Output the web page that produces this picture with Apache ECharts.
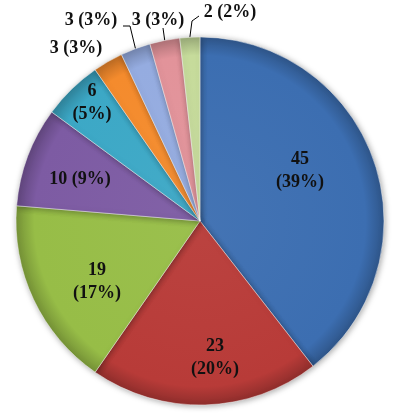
<!DOCTYPE html>
<html>
<head>
<meta charset="utf-8">
<script src="https://cdn.jsdelivr.net/npm/echarts@6/dist/echarts.min.js"></script>
<style>
html,body{margin:0;padding:0;background:#fff;}
#chart{width:400px;height:414px;}
</style>
</head>
<body>
<div id="chart"></div>
<script>
// ---- data ----
var categories = ['A', 'B', 'C', 'D', 'E', 'F', 'G', 'H', 'I'];
var values = [45, 23, 19, 10, 6, 3, 3, 3, 2];

// ---- styles / layout ----
var colors = ['#3C6EB1', '#B83B38', '#97BD47', '#7D5BA3', '#3CA8C6', '#F48B2D', '#95ACE0', '#E2939A', '#C6DB9B'];
var twoLine = [true, true, true, false, true, false, false, false, false];
var outside = [false, false, false, false, false, true, true, true, true];
var showLine = [false, false, false, false, false, false, true, true, true];
// label text centres (px)
var labelPos = [[300, 171], [215, 358], [97, 282], [80, 179], [92, 103], [76, 48], [91, 20], [158, 20], [230, 12]];
// leader line bends / ends after the slice edge point (px)
var lineTail = [null, null, null, null, null, null, [[130, 26], [123, 26]], [[163, 28]], [[192, 21], [199, 16]]];

var CX = 200, CY = 221, R = 184;

function shade(hex, f) {
  var n = parseInt(hex.slice(1), 16);
  var r = (n >> 16) & 255, g = (n >> 8) & 255, b = n & 255;
  function c(v) { v = f < 0 ? v * (1 + f) : v + (255 - v) * f; return Math.max(0, Math.min(255, Math.round(v))); }
  return 'rgb(' + c(r) + ',' + c(g) + ',' + c(b) + ')';
}

var total = values.reduce(function (a, b) { return a + b; }, 0);
// mid angles (clockwise from 12 o'clock), derived from values
var midAngles = [];
(function () {
  var acc = 0;
  values.forEach(function (v) { midAngles.push((acc + v / 2) / total * 2 * Math.PI); acc += v; });
})();

var data = values.map(function (v, i) {
  var pct = Math.round(v / total * 100);
  return {
    name: categories[i],
    value: v,
    itemStyle: {
      color: {
        type: 'radial', x: CX, y: CY, r: R, global: true,
        colorStops: [
          { offset: 0, color: shade(colors[i], 0.04) },
          { offset: 0.9, color: colors[i] },
          { offset: 1, color: shade(colors[i], -0.22) }
        ]
      }
    },
    label: {
      position: outside[i] ? 'outside' : 'inside',
      formatter: v + (twoLine[i] ? '\n' : ' ') + '(' + pct + '%)'
    },
    labelLine: { show: showLine[i] }
  };
});

var chart = echarts.init(document.getElementById('chart'), null, { renderer: 'canvas' });
chart.setOption({
  animation: false,
  series: [{
    type: 'pie',
    center: [CX, CY],
    radius: [0, R],
    startAngle: 90,
    clockwise: true,
    avoidLabelOverlap: false,
    data: data,
    itemStyle: {
      borderColor: 'rgba(255,255,255,0.45)',
      borderWidth: 1,
      shadowBlur: 6,
      shadowColor: 'rgba(0,0,0,0.35)',
      shadowOffsetX: 1,
      shadowOffsetY: 1
    },
    label: {
      show: true,
      fontFamily: 'Liberation Serif',
      fontWeight: 'bold',
      fontSize: 18,
      lineHeight: 23,
      color: '#111',
      align: 'center'
    },
    labelLine: {
      length: 10,
      length2: 6,
      lineStyle: { color: '#000', width: 1 }
    },
    labelLayout: function (p) {
      var i = p.dataIndex;
      var pos = labelPos[i];
      var out = { x: pos[0], y: pos[1], align: 'center', verticalAlign: 'middle' };
      if (lineTail[i]) {
        var a = midAngles[i];
        var pts = [[CX + R * Math.sin(a), CY - R * Math.cos(a)]].concat(lineTail[i]);
        out.labelLinePoints = pts;
      }
      return out;
    }
  }]
});
</script>
</body>
</html>
